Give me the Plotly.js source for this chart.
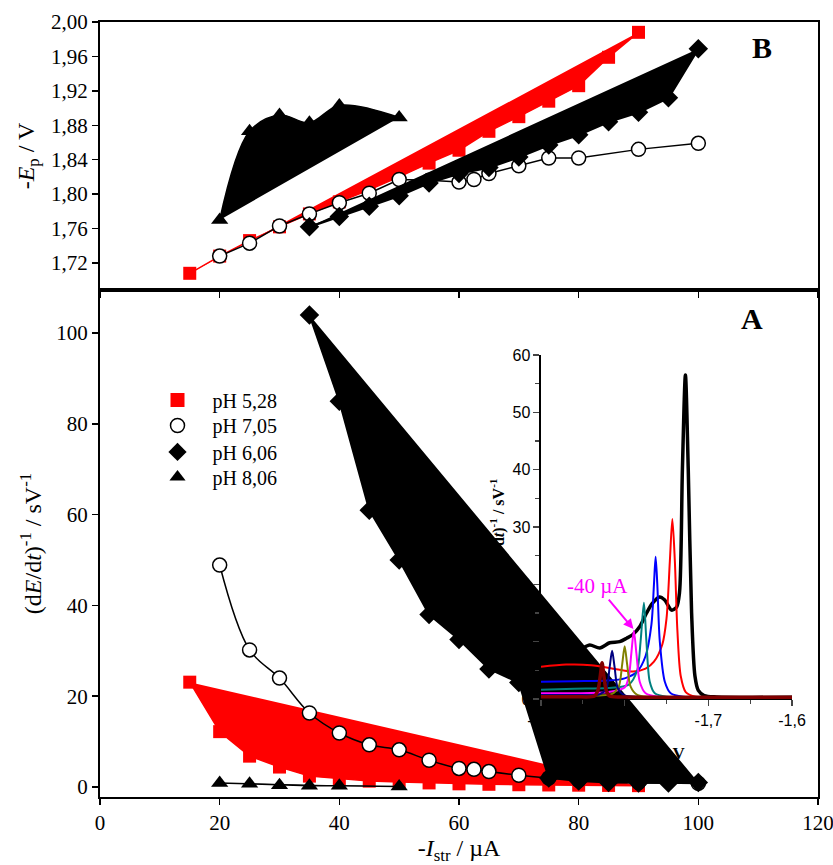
<!DOCTYPE html>
<html><head><meta charset="utf-8">
<script src="https://cdn.plot.ly/plotly-3.0.1.min.js"></script>
<style>body{margin:0;background:#fff}#chart{width:833px;height:865px}</style>
</head><body><div id="chart"></div><script>
// ---------- Panel B (top): -Ep / V versus -Istr / µA ----------
const bX_ph528 = [15,20,25,30,35,40,45,50,55,60,65,70,75,80,85,90];
const bY_ph528 = [1.708,1.728,1.746,1.762,1.777,1.791,1.805,1.820,1.836,1.851,1.873,1.890,1.908,1.926,1.959,1.988];
const bX_ph705 = [20,25,30,35,40,45,50,55,60,62.5,65,70,75,80,90,100];
const bY_ph705 = [1.728,1.743,1.763,1.777,1.790,1.801,1.817,1.816,1.814,1.817,1.824,1.833,1.842,1.842,1.852,1.859];
const bX_ph606 = [35,40,45,50,55,60,65,70,75,80,85,90,95,100];
const bY_ph606 = [1.762,1.774,1.786,1.798,1.813,1.824,1.831,1.843,1.857,1.869,1.884,1.895,1.912,1.969];
const bX_ph806 = [20,25,30,35,40,50];
const bY_ph806 = [1.770,1.873,1.892,1.883,1.903,1.889];

// ---------- Panel A (bottom): (dE/dt)^-1 / sV^-1 versus -Istr / µA ----------
const aX_ph528 = [15,20,25,30,35,40,45,50,55,60,65,70,75,80,85,90];
const aY_ph528 = [23.1,12.2,6.8,4.4,2.4,1.8,1.3,1.1,0.9,0.7,0.6,0.5,0.45,0.4,0.35,0.3];
const aX_ph705 = [20,25,30,35,40,45,50,55,60,62.5,65,70,75,80,90,100];
const aY_ph705 = [48.9,30.2,24.0,16.3,11.9,9.3,8.2,5.9,4.1,3.9,3.4,2.6,2.0,1.5,1.0,0.8];
const aX_ph606 = [35,40,45,50,55,60,65,70,75,80,85,90,95,100];
const aY_ph606 = [104,85,61,50,38,32.5,26,23,2.0,1.3,1.0,0.9,0.9,1.0];
const aX_ph806 = [20,25,30,35,40,50];
const aY_ph806 = [0.9,0.7,0.4,0.3,0.3,0.1];

const seriesNames = ['pH 5,28','pH 7,05','pH 6,06','pH 8,06'];

// ---------- Inset: (dE/dt)^-1 versus E / V ----------
const insX_black = [-1.90,-1.88,-1.86,-1.8536,-1.8417,-1.8298,-1.8179,-1.806,-1.7976,-1.7905,-1.7821,-1.7738,-1.7667,-1.7583,-1.7524,-1.744,-1.738,-1.7345,-1.731,-1.7274,-1.724,-1.720,-1.716,-1.712,-1.705,-1.69,-1.6];
const insY_black = [9.0,9.3,8.8,8.7,9.4,8.9,9.8,10.0,10.6,11.2,12.6,15.0,16.7,17.8,17.3,15.5,16.0,18.5,40,56.5,40,15,4,1.5,0.6,0.35,0.3];
const insX_red = [-1.90,-1.87,-1.84,-1.81,-1.79,-1.775,-1.765,-1.755,-1.750,-1.746,-1.743,-1.740,-1.737,-1.733,-1.727,-1.715,-1.6];
const insY_red = [5.6,6.0,5.9,5.2,4.8,5.3,6.5,9.5,14,24,31.4,24,12,4,1.2,0.4,0.3];
const insX_blue = [-1.90,-1.86,-1.82,-1.80,-1.785,-1.775,-1.768,-1.765,-1.763,-1.761,-1.758,-1.752,-1.745,-1.73,-1.6];
const insY_blue = [3.0,3.1,3.2,3.6,4.8,7.5,13,20,24.8,20,10,3,1,0.4,0.3];
const insX_teal = [-1.90,-1.86,-1.82,-1.795,-1.785,-1.781,-1.777,-1.774,-1.770,-1.764,-1.75,-1.6];
const insY_teal = [1.6,1.8,1.9,2.5,5,10,16.8,10,3,1,0.4,0.3];
const insX_magenta = [-1.90,-1.86,-1.82,-1.80,-1.795,-1.792,-1.789,-1.786,-1.782,-1.775,-1.76,-1.6];
const insY_magenta = [1.0,1.0,1.2,2.0,4,8,11.9,8,3,1.0,0.4,0.3];
const insX_olive = [-1.90,-1.85,-1.815,-1.807,-1.803,-1.800,-1.797,-1.793,-1.785,-1.77,-1.6];
const insY_olive = [0.6,0.6,0.9,2.2,6,9.2,6,2.2,0.7,0.35,0.3];
const insX_navy = [-1.90,-1.86,-1.83,-1.822,-1.818,-1.815,-1.812,-1.808,-1.80,-1.78,-1.6];
const insY_navy = [0.7,0.7,0.8,1.8,5.5,8.4,5.5,1.8,0.6,0.35,0.3];
const insX_maroon = [-1.90,-1.86,-1.836,-1.832,-1.829,-1.827,-1.825,-1.822,-1.818,-1.80,-1.70,-1.60];
const insY_maroon = [0.4,0.4,0.5,1.5,4.2,6.3,4.2,1.5,0.5,0.35,0.3,0.3];

const insXTickVals = [-1.9,-1.8,-1.7,-1.6];
const insXTickText = ['-1,9','-1,8','-1,7','-1,6'];

const SERIF = 'Liberation Serif, Times New Roman, serif';
const SANS = 'Liberation Sans, Arial, sans-serif';
const RED = '#ff0000';

function filled(x, y, xa, ya, color, symbol, size, lw, shape) {
  return {x:x, y:y, xaxis:xa, yaxis:ya, type:'scatter', mode:'lines+markers',
    fill:'toself', fillcolor:color, line:{color:color, width:lw, shape:shape||'linear'},
    marker:{symbol:symbol, size:size, color:color, line:{width:0}}, showlegend:false, hoverinfo:'skip'};
}
function circles(x, y, xa, ya, shape) {
  return {x:x, y:y, xaxis:xa, yaxis:ya, type:'scatter', mode:'lines+markers',
    line:{color:'#000', width:1.5, shape:shape}, marker:{symbol:'circle', size:14, color:'#fff', line:{color:'#000', width:1.5}},
    showlegend:false, hoverinfo:'skip'};
}
function insetLine(x, y, color, w) {
  return {x:x, y:y, xaxis:'x3', yaxis:'y3', type:'scatter', mode:'lines',
    line:{color:color, width:w, shape:'spline', smoothing:0.8}, showlegend:false, hoverinfo:'skip'};
}

const traces = [
  // top panel B
  filled(bX_ph528, bY_ph528, 'x2', 'y2', RED, 'square', 13, 1.5),
  circles(bX_ph705, bY_ph705, 'x2', 'y2', 'linear'),
  filled(bX_ph606, bY_ph606, 'x2', 'y2', '#000', 'diamond', 15, 2.5),
  filled(bX_ph806, bY_ph806, 'x2', 'y2', '#000', 'triangle-up', 15, 1.5, 'spline'),
  // bottom panel A
  filled(aX_ph528, aY_ph528, 'x', 'y', RED, 'square', 13, 1.5),
  circles(aX_ph705, aY_ph705, 'x', 'y', 'spline'),
  filled(aX_ph606, aY_ph606, 'x', 'y', '#000', 'diamond', 15, 2),
  filled(aX_ph806, aY_ph806, 'x', 'y', '#000', 'triangle-up', 15, 1.5),
  // inset
  insetLine(insX_black, insY_black, '#000', 3.5),
  insetLine(insX_red, insY_red, RED, 2),
  insetLine(insX_blue, insY_blue, '#0000ff', 2),
  insetLine(insX_teal, insY_teal, '#008080', 2),
  insetLine(insX_magenta, insY_magenta, '#ff00ff', 2),
  insetLine(insX_olive, insY_olive, '#808000', 2),
  insetLine(insX_navy, insY_navy, '#000080', 2),
  insetLine(insX_maroon, insY_maroon, '#800000', 3.5),
];
// legend entries (markers only), one small legend per row
const legendMarkers = [
  {symbol:'square', color:RED, line:{width:0}},
  {symbol:'circle', color:'#fff', line:{color:'#000', width:1.5}},
  {symbol:'diamond', color:'#000', line:{width:0}},
  {symbol:'triangle-up', color:'#000', line:{width:0}},
];
const legendIds = ['legend','legend2','legend3','legend4'];
const legendRowY = [0.5123, 0.4794, 0.4452, 0.4129];
seriesNames.forEach((n, i) => {
  traces.push({x:[null], y:[null], xaxis:'x', yaxis:'y', type:'scatter', mode:'markers', name:n, legend:legendIds[i],
    marker:Object.assign({size:14}, legendMarkers[i]), showlegend:true, hoverinfo:'skip'});
});

const axBase = {showgrid:false, zeroline:false, showline:true, linecolor:'#000', linewidth:2,
  ticks:'outside', ticklen:6, tickwidth:1.5, tickcolor:'#000', mirror:true, automargin:false,
  ticklabeloverflow:'allow', tickfont:{family:SERIF, size:21, color:'#000'}};

const layout = {
  width:833, height:865,
  margin:{l:100, r:15, t:22, b:68},
  paper_bgcolor:'#fff', plot_bgcolor:'rgba(0,0,0,0)',
  separators:', ',
  font:{family:SERIF, color:'#000'},
  showlegend:true,
  xaxis: Object.assign({}, axBase, {domain:[0,1], anchor:'y', range:[0,120], dtick:20, tick0:0,
    title:{text:'-<i>I</i><sub>str</sub> / µA', font:{family:SERIF, size:24}, standoff:14}}),
  yaxis: Object.assign({}, axBase, {domain:[0,0.6542], anchor:'x', range:[-2.2,109.5], dtick:20, tick0:0,
    title:{text:'(d<i>E</i>/d<i>t</i>)<sup>-1</sup> / sV<sup>-1</sup>', font:{family:SERIF, size:24}, standoff:8}}),
  xaxis2: Object.assign({}, axBase, {domain:[0,1], anchor:'y2', range:[0,120], dtick:20, tick0:0, showticklabels:false}),
  yaxis2: Object.assign({}, axBase, {domain:[0.6542,1], anchor:'x2', range:[1.6886,2.0], dtick:0.04, tick0:0, tickformat:'.2f',
    title:{text:'-<i>E</i><sub>p</sub> / V', font:{family:SERIF, size:24}, standoff:10}}),
  xaxis3: {domain:[0.6142,0.9638], anchor:'y3', range:[-1.9,-1.6], showgrid:false, zeroline:false, showline:true,
    linecolor:'#000', linewidth:1.5, mirror:false, ticks:'outside', ticklen:6, tickwidth:1.2, automargin:false,
    tickvals:insXTickVals, ticktext:insXTickText, tickfont:{family:SANS, size:16, color:'#000'},
    minor:{ticks:'outside', ticklen:4, tickwidth:1.2, tickvals:[-1.85,-1.75,-1.65]},
    title:{text:'<b><i>E</i> / V</b>', font:{family:SERIF, size:17}, standoff:19}},
  yaxis3: {domain:[0.1265,0.5703], anchor:'x3', range:[0,60], showgrid:false, zeroline:false, showline:true,
    linecolor:'#000', linewidth:1.5, mirror:false, ticks:'outside', ticklen:6, tickwidth:1.2, automargin:false,
    dtick:10, tick0:0, tickfont:{family:SANS, size:16, color:'#000'},
    minor:{ticks:'outside', ticklen:4, tickwidth:1.2, dtick:5},
    title:{text:'<b>(d<i>E</i>/d<i>t</i>)<sup>-1</sup> / sV<sup>-1</sup></b>', font:{family:SERIF, size:16}, standoff:4}},
  annotations:[
    {xref:'paper', yref:'paper', x:0.922, y:0.9677, xanchor:'center', yanchor:'middle', text:'<b>B</b>', showarrow:false, font:{family:SERIF, size:30, color:'#000'}},
    {xref:'paper', yref:'paper', x:0.908, y:0.618, xanchor:'center', yanchor:'middle', text:'<b>A</b>', showarrow:false, font:{family:SERIF, size:30, color:'#000'}},
    {xref:'x3', yref:'y3', x:-1.7895, y:12.2, text:'-40 µA', showarrow:true, arrowhead:2, arrowsize:1, arrowwidth:2,
      arrowcolor:'#ff00ff', ax:-36, ay:-43, font:{family:SERIF, size:21, color:'#ff00ff'}}
  ]
};
legendIds.forEach((id, i) => {
  layout[id] = {x:0.0592, y:legendRowY[i], xanchor:'left', yanchor:'middle', bgcolor:'rgba(0,0,0,0)',
    font:{family:SERIF, size:20, color:'#000'}, itemwidth:60};
});

Plotly.newPlot('chart', traces, layout, {staticPlot:true, displayModeBar:false});
</script></body></html>
